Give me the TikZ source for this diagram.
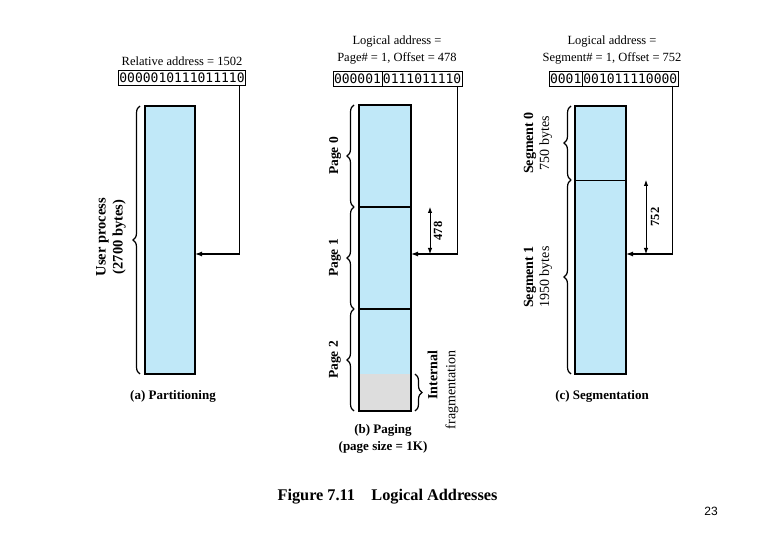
\documentclass[tikz,border=0pt]{standalone}
\usepackage{fontspec}
\setmainfont{Liberation Serif}
\newfontfamily\bitfont{DejaVu Sans Mono}
\newfontfamily\slidefont{Liberation Sans}
\usetikzlibrary{arrows.meta,positioning,decorations.pathreplacing}
\definecolor{procblue}{RGB}{192,232,248}
\definecolor{fraggray}{RGB}{221,221,221}

\begin{document}
\begin{tikzpicture}[x=1pt,y=-1pt,
  every node/.style={font=\fontsize{12.5}{17}\selectfont},
  bits/.style={draw,line width=0.9pt,inner ysep=0pt,inner xsep=1pt,outer sep=0pt,
    minimum height=15,font=\bitfont\fontsize{13}{13}\selectfont},
  procbox/.style={draw,fill=procblue,line width=1.2pt,inner sep=0pt,outer sep=0pt},
  ptr/.style={line width=1.2pt,-{Latex[length=7pt,width=5pt]}},
  dimarr/.style={line width=0.9pt,{Latex[length=6pt,width=4.5pt]}-{Latex[length=6pt,width=4.5pt]}},
  brc/.style={decorate,decoration={brace,amplitude=7pt},line width=1.2pt},
  side/.style={rotate=90,align=center,font=\fontsize{14}{16}\selectfont},
  captxt/.style={font=\bfseries\fontsize{13}{16.5}\selectfont,align=center}]
\useasboundingbox (0,0) rectangle (780,540);
\coordinate (hitrow) at (0,254);

% (a) partitioning
\node (relA) at (182,61) {Relative address = 1502};
\node[bits] (binA) at (182,78) {0000010111011110};
\node[procbox,minimum width=50,minimum height=268] (procA) at (170,240) {};
\draw[brc] (140,374) -- (140,106);
\node[side,font=\bfseries\fontsize{14.5}{17}\selectfont] (userA) at (111,237) {User process\\(2700 bytes)};
\draw[ptr] ([xshift=-6pt]binA.south east) |- (procA.east |- hitrow);
\node[captxt] (capA) at (173,396) {(a) Partitioning};

% (b) paging
\node[align=center] (relB) at (397,50) {Logical address =\\Page\# = 1, Offset = 478};
\node[bits] (pgB) at (357.5,78.5) {000001};
\node[bits,right=0pt of pgB] (offB) {0111011110};
\fill[procblue] (359,105) rectangle (411,374);
\fill[fraggray] (359,374) rectangle (411,411);
\foreach \y in {207,309}
  \draw[line width=2.4pt] (359,\y) -- (411,\y);
\node[draw,line width=2.4pt,inner sep=0pt,outer sep=0pt,minimum width=52,minimum height=306] (procB) at (385,258) {};
\foreach \ytop/\ybot/\n in {105/207/0,207/309/1,309/411/2}{
  \draw[brc] (354,\ybot) -- (354,\ytop);
  \node[side,font=\bfseries\fontsize{13.5}{16}\selectfont] (page\n) at (335,{(\ytop+\ybot)/2}) {Page \n};
}
\draw[brc] (415,374) -- (415,411);
\node[side,anchor=east,align=right,font=\fontsize{14}{18}\selectfont] (fragB) at (443,347) {\textbf{Internal}\\fragmentation};
\draw[ptr] ([xshift=-5pt]offB.south east) |- (procB.east |- hitrow);
\coordinate (pg1top) at (430,207);
\coordinate (pg1hit) at (430,254);
\draw[dimarr] (pg1top) -- (pg1hit);
\node[rotate=90,font=\bfseries\fontsize{12.5}{14}\selectfont] (offlblB) at (438,231) {478};
\node[captxt] (capB) at (383,439) {(b) Paging\\(page size = 1K)};

% (c) segmentation
\node[align=center] (relC) at (612,50) {Logical address =\\Segment\# = 1, Offset = 752};
\node[bits] (segC) at (565.7,78.5) {0001};
\node[bits,right=0pt of segC] (offC) {001011110000};
\node[procbox,minimum width=51,minimum height=268] (procC) at (600.5,240) {};
\coordinate (segcut) at (600,180);
\draw[line width=0.9pt] (procC.west |- segcut) -- (procC.east |- segcut);
\draw[brc] (571,180) -- (571,106);
\draw[brc] (571,374) -- (571,180);
\node[side] (seg0) at (538,143) {\textbf{Segment 0}\\750 bytes};
\node[side] (seg1) at (538,277) {\textbf{Segment 1}\\1950 bytes};
\draw[ptr] ([xshift=-6pt]offC.south east) |- (procC.east |- hitrow);
\coordinate (seg1top) at (646,180);
\coordinate (seg1hit) at (646,254);
\draw[dimarr] (seg1top) -- (seg1hit);
\node[rotate=90,font=\bfseries\fontsize{12.5}{14}\selectfont] (offlblC) at (655,217) {752};
\node[captxt] (capC) at (602,396) {(c) Segmentation};

\node[font=\bfseries\fontsize{16.3}{19}\selectfont] (figcap) at (387.5,497) {Figure 7.11\quad Logical Addresses};
\node[font=\slidefont\fontsize{12}{14}\selectfont] (slideno) at (711,511) {23};
\end{tikzpicture}
\end{document}
